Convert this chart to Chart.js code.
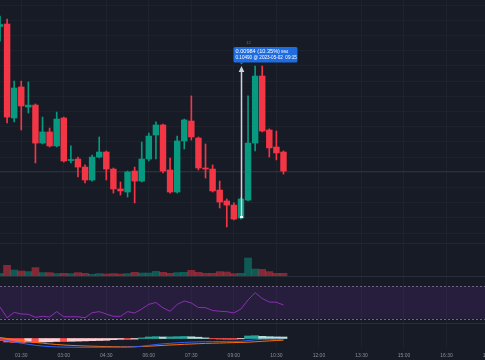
<!DOCTYPE html>
<html>
<head>
<meta charset="utf-8">
<script src="https://cdn.jsdelivr.net/npm/chart.js@4.4.0/dist/chart.umd.min.js"></script>
<style>
  html, body { margin: 0; padding: 0; background: #171b26; }
  /* Zeichenfläche ist 4px breiter als das Bild: 18:00 wird am rechten Rand abgeschnitten */
  #wrap { position: relative; width: 485px; height: 360px; overflow: hidden; }
</style>
</head>
<body>
<div id="wrap"><canvas id="chart" width="489" height="360"></canvas></div>
<script>
// 15-Minuten-Kerzen vom 2023-05-02
const times = [
  '00:45','01:00','01:15','01:30','01:45','02:00','02:15','02:30','02:45',
  '03:00','03:15','03:30','03:45','04:00','04:15','04:30','04:45',
  '05:00','05:15','05:30','05:45','06:00','06:15','06:30','06:45',
  '07:00','07:15','07:30','07:45','08:00','08:15','08:30','08:45',
  '09:00','09:15','09:30','09:45','10:00','10:15','10:30','10:45',
  '11:00','11:15','11:30','11:45','12:00','12:15','12:30','12:45',
  '13:00','13:15','13:30','13:45','14:00','14:15','14:30','14:45',
  '15:00','15:15','15:30','15:45','16:00','16:15','16:30','16:45',
  '17:00','17:15','17:30','17:45','18:00'
];
const tickLabels = ['01:30','03:00','04:30','06:00','07:30','09:00','10:30','12:00','13:30','15:00','16:30','18:00'];

const open = [0.10760, 0.10776, 0.10158, 0.10362, 0.10230, 0.10243, 0.09993, 0.10066, 0.09974, 0.10158,
  0.09878, 0.09888, 0.09835, 0.09750, 0.09901, 0.09934, 0.09822, 0.09691, 0.09671, 0.09809,
  0.09743, 0.09888, 0.10046, 0.10112, 0.09816, 0.09671, 0.10007, 0.10138, 0.10026, 0.09829,
  0.09822, 0.09684, 0.09612, 0.09585, 0.09500, 0.09618, 0.09993, 0.10434, 0.10079, 0.09967, 0.09934];
const high = [0.10829, 0.10809, 0.10401, 0.10401, 0.10395, 0.10250, 0.10164, 0.10092, 0.10197, 0.10164,
  0.09974, 0.09901, 0.09849, 0.09914, 0.10033, 0.09941, 0.09829, 0.09737, 0.09809, 0.09835,
  0.10000, 0.10059, 0.10132, 0.10118, 0.09895, 0.10039, 0.10151, 0.10303, 0.10033, 0.09987,
  0.09849, 0.09743, 0.09625, 0.09599, 0.09632, 0.10303, 0.10500, 0.10500, 0.10086, 0.10072, 0.09941];
const low = [0.10664, 0.10125, 0.10132, 0.10079, 0.10191, 0.09862, 0.09987, 0.09967, 0.09967, 0.09868,
  0.09862, 0.09770, 0.09730, 0.09743, 0.09895, 0.09750, 0.09664, 0.09651, 0.09638, 0.09599,
  0.09737, 0.09875, 0.09888, 0.09796, 0.09664, 0.09664, 0.09954, 0.10013, 0.09816, 0.09763,
  0.09671, 0.09566, 0.09441, 0.09487, 0.09493, 0.09612, 0.09941, 0.10066, 0.09901, 0.09882, 0.09789];
const close = [0.10773, 0.10164, 0.10355, 0.10237, 0.10243, 0.09993, 0.10066, 0.09974, 0.10151, 0.09875,
  0.09885, 0.09835, 0.09750, 0.09901, 0.09934, 0.09822, 0.09691, 0.09678, 0.09803, 0.09743,
  0.09888, 0.10039, 0.10112, 0.09809, 0.09671, 0.10007, 0.10145, 0.10033, 0.09829, 0.09822,
  0.09678, 0.09605, 0.09585, 0.09493, 0.09625, 0.09993, 0.10434, 0.10072, 0.09961, 0.09928, 0.09809];

const volume = [250, 1070, 600, 500, 440, 840, 340, 340, 240, 270,
  240, 340, 270, 170, 240, 200, 240, 200, 240, 370,
  300, 300, 470, 370, 270, 340, 370, 570, 370, 270,
  270, 440, 400, 240, 270, 1800, 700, 670, 440, 270, 270];

const rsi = [44.3, 31.2, 37.8, 35.7, 35.4, 31.7, 32.9, 32.1, 38.6, 32.4,
  32.4, 32.4, 31.2, 37.3, 38.6, 35.7, 32.9, 32.9, 38.6, 37.0,
  41.9, 47.6, 49.8, 43.3, 39.1, 47.4, 51.7, 49.2, 43.7, 43.5,
  40.0, 39.1, 38.6, 37.0, 41.9, 52.9, 61.8, 54.7, 50.4, 50.1, 46.8];

// MACD in 1e-5
const macdLine = [-1.4, -4, -7, -9.4, -11.6, -13.6, -15, -16.2, -16.8, -17.2,
  -17.4, -17.6, -17.6, -17.6, -17.6, -17.6, -17.6, -17.6, -17.4, -16.6,
  -15.4, -13.8, -12, -10.6, -9.6, -8.6, -7.8, -7.2, -6.6, -6.4,
  -6.2, -6, -5.8, -5.8, -5.6, -4.2, -2.6, -1.8, -1.6, -1.6, -1.8];
const signalLine = [2, 0, -2.2, -4.2, -6, -7.8, -9.4, -10.8, -12, -13,
  -13.8, -14.4, -15, -15.4, -15.8, -16.2, -16.4, -16.6, -16.6, -16.4,
  -16, -15.4, -14.6, -13.8, -13, -12.4, -11.6, -11, -10.4, -9.8,
  -9.4, -9, -8.6, -8.2, -7.8, -7.4, -6.6, -5.6, -4.8, -4, -3.4];
const macdHist = [-4, -7, -8, -8, -7, -8, -7, -6.6, -6, -6,
  -5.6, -5.2, -4.8, -4.4, -4, -3.6, -2.4, -1.6, -2, -1.2,
  1.2, 3, 3.6, 3, 3.2, 3.6, 4, 3.4, 2.6, 1.2,
  -0.6, -1.2, -1.6, -1.6, -0.6, 5, 5.6, 4.4, 3.6, 3.2, 3];

// Messung (Preisbereich-Werkzeug)
const measureIndex = 34;
const measureFrom = 0.09506;
const measureTo = 0.10490;
const measureText1 = '0.00984 (10.35%)';
const measureText1b = '984';
const measureText2 = '0.10490 @ 2023-05-02  09:15';

const upColor = '#089981';
const downColor = '#f23645';
const gridColor = '#1e222d';

const candleColors = open.map((o, i) => close[i] >= o ? upColor : downColor);
const volColors = open.map((o, i) => close[i] >= o ? 'rgba(8,153,129,0.5)' : 'rgba(242,54,69,0.5)');
const histColors = macdHist.map((h, i) => {
    const prev = i > 0 ? macdHist[i - 1] : h;
    if (h >= 0) return h > prev ? '#26a69a' : '#b2dfdb';
    return h > prev ? '#ffcdd2' : '#ff5252';
});

// Hilfsfunktion: Achse für einen Bereich (Pane)
function paneAxis(weight, stackWeight, min, max, extra) {
    return Object.assign({
        type: 'linear',
        position: 'left',
        stack: 'panes',
        stackWeight: stackWeight,
        weight: weight,
        min: min,
        max: max,
        border: { display: false },
        ticks: { display: false },
        grid: { display: false, drawTicks: false }
    }, extra || {});
}

const panePlugin = {
    id: 'panes',
    beforeDatasetsDraw(chart) {
        const { ctx, chartArea, scales } = chart;
        const r = scales.yr;
        const y70 = r.getPixelForValue(70);
        const y30 = r.getPixelForValue(30);
        ctx.save();
        // RSI-Band
        ctx.fillStyle = 'rgba(126, 50, 194, 0.16)';
        ctx.fillRect(chartArea.left, y70, chartArea.width, y30 - y70);
        ctx.strokeStyle = '#6c6580';
        ctx.lineWidth = 1;
        ctx.setLineDash([2, 2]);
        [y70, y30].forEach(y => {
            ctx.beginPath();
            ctx.moveTo(chartArea.left, Math.round(y) + 0.5);
            ctx.lineTo(chartArea.right, Math.round(y) + 0.5);
            ctx.stroke();
        });
        ctx.setLineDash([]);
        // Trennlinien zwischen den Bereichen
        [[scales.yv.top, '#22262f'], [scales.yr.top, '#2a2e39'], [scales.ym.top, '#2a2e39']].forEach(([y, c]) => {
            ctx.strokeStyle = c;
            ctx.beginPath();
            ctx.moveTo(chartArea.left, Math.round(y) + 0.5);
            ctx.lineTo(chartArea.right, Math.round(y) + 0.5);
            ctx.stroke();
        });
        // Preislinie (letzter Schlusskurs)
        const py = Math.round(scales.y.getPixelForValue(close[close.length - 1])) + 0.5;
        ctx.strokeStyle = 'rgba(242, 54, 69, 0.25)';
        ctx.beginPath();
        ctx.moveTo(chartArea.left, py);
        ctx.lineTo(chartArea.right, py);
        ctx.stroke();
        ctx.restore();
    },
    afterDatasetsDraw(chart) {
        const { ctx, scales } = chart;
        const ax = Math.round(scales.x.getPixelForValue(measureIndex)) + 0.5;
        const yTop = scales.y.getPixelForValue(measureTo);
        const yBot = scales.y.getPixelForValue(measureFrom);
        ctx.save();
        // Pfeil
        ctx.strokeStyle = '#d1d4dc';
        ctx.fillStyle = '#d1d4dc';
        ctx.lineWidth = 1.5;
        ctx.beginPath();
        ctx.moveTo(ax, yBot);
        ctx.lineTo(ax, yTop + 4);
        ctx.stroke();
        ctx.beginPath();
        ctx.moveTo(ax, yTop - 1.5);
        ctx.lineTo(ax - 2.8, yTop + 4.5);
        ctx.lineTo(ax + 2.8, yTop + 4.5);
        ctx.closePath();
        ctx.fill();
        ctx.fillStyle = '#ffffff';
        ctx.fillRect(ax - 1.5, yBot - 1, 3, 2);
        // Beschriftungsbox
        const bx = ax - 8, by = yTop - 20.5, bw = 64, bh = 15.5;
        ctx.fillStyle = '#1e6ce0';
        ctx.beginPath();
        ctx.roundRect(bx, by, bw, bh, 1.5);
        ctx.fill();
        ctx.beginPath();
        ctx.moveTo(ax - 2, by + bh);
        ctx.lineTo(ax + 2, by + bh);
        ctx.lineTo(ax, by + bh + 2);
        ctx.closePath();
        ctx.fill();
        ctx.fillStyle = '#ffffff';
        ctx.textBaseline = 'middle';
        ctx.textAlign = 'left';
        ctx.font = '5.6px "Liberation Sans", Arial, sans-serif';
        ctx.fillText(measureText1, bx + 2, by + 4.6);
        const w1 = ctx.measureText(measureText1).width;
        ctx.font = '4.4px "Liberation Sans", Arial, sans-serif';
        ctx.fillText(measureText1b, bx + 3 + w1, by + 4.9);
        ctx.font = '4.6px "Liberation Sans", Arial, sans-serif';
        ctx.fillText(measureText2, bx + 2, by + 11);
        ctx.fillStyle = '#6a6d78';
        ctx.textAlign = 'center';
        ctx.font = '4px "Liberation Sans", Arial, sans-serif';
        ctx.fillText('12', ax + 7, by - 4);
        ctx.restore();
    },
    afterDraw(chart) {
        const { ctx, scales } = chart;
        ctx.save();
        ctx.fillStyle = '#8a8e99';
        ctx.font = '5px "Liberation Sans", Arial, sans-serif';
        ctx.textAlign = 'center';
        ctx.textBaseline = 'middle';
        tickLabels.forEach(label => {
            const px = scales.x.getPixelForValue(times.indexOf(label));
            ctx.fillText(label, px, 356);
        });
        ctx.restore();
    }
};

const ctx = document.getElementById('chart').getContext('2d');
new Chart(ctx, {
    type: 'bar',
    data: {
        labels: times,
        datasets: [
            {
                label: 'Körper',
                data: open.map((o, i) => [o, close[i]]),
                backgroundColor: candleColors,
                barThickness: 5.8,
                minBarLength: 1,
                grouped: false,
                yAxisID: 'y',
                order: 1
            },
            {
                label: 'Docht',
                data: low.map((l, i) => [l, high[i]]),
                backgroundColor: candleColors,
                barThickness: 1,
                grouped: false,
                yAxisID: 'y',
                order: 2
            },
            {
                label: 'Volumen',
                data: volume,
                backgroundColor: volColors,
                barPercentage: 1,
                categoryPercentage: 1,
                grouped: false,
                yAxisID: 'yv',
                order: 3
            },
            {
                type: 'line',
                label: 'RSI',
                data: rsi,
                borderColor: '#8c2fb2',
                borderWidth: 1,
                pointRadius: 0,
                tension: 0,
                yAxisID: 'yr',
                order: 3
            },
            {
                label: 'Histogramm',
                data: macdHist,
                backgroundColor: histColors,
                barPercentage: 1,
                categoryPercentage: 1,
                grouped: false,
                yAxisID: 'ym',
                order: 4
            },
            {
                type: 'line',
                label: 'MACD',
                data: macdLine,
                borderColor: '#2962ff',
                borderWidth: 1,
                pointRadius: 0,
                yAxisID: 'ym',
                order: 2
            },
            {
                type: 'line',
                label: 'Signal',
                data: signalLine,
                borderColor: '#ff6d00',
                borderWidth: 1,
                pointRadius: 0,
                yAxisID: 'ym',
                order: 2
            }
        ]
    },
    options: {
        responsive: false,
        animation: false,
        devicePixelRatio: 1,
        events: [],
        layout: { padding: { top: 0, left: 0, right: 0, bottom: 12 }, autoPadding: false },
        plugins: { legend: { display: false }, tooltip: { enabled: false } },
        scales: {
            x: {
                type: 'category',
                offset: false,
                border: { display: false },
                ticks: { display: false },
                grid: {
                    offset: false,
                    drawTicks: false,
                    color: c => (c.index - 3) % 6 === 0 ? gridColor : 'transparent'
                }
            },
            ym: paneAxis(1, 25, -19, 31),
            yr: paneAxis(2, 47, 24.74, 82.23),
            yv: paneAxis(3, 33, 0, 3300),
            y: paneAxis(4, 243, 0.093355, 0.109342, {
                ticks: { display: false, stepSize: 0.001, includeBounds: false, maxTicksLimit: 40 },
                grid: { display: true, drawTicks: false, color: gridColor }
            })
        }
    },
    plugins: [panePlugin]
});
</script>
</body>
</html>
